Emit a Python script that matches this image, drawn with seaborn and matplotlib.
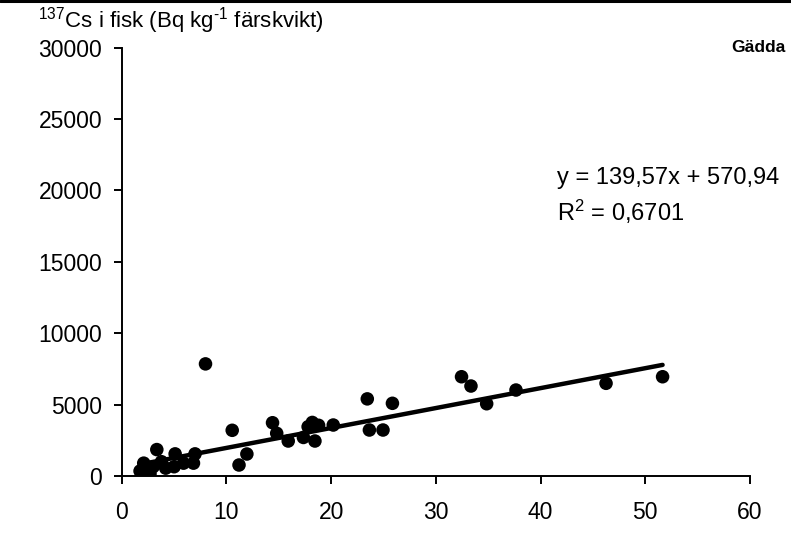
import matplotlib
matplotlib.use("Agg")
import matplotlib.pyplot as plt
from matplotlib.lines import Line2D
import numpy as np
import pandas as pd
import seaborn as sns

# 137Cs activity concentration in pike against the catch-site predictor
x_values = [1.75, 2.1, 2.7, 3.0, 3.35, 3.8, 4.2, 5.0, 5.1, 5.9, 6.85, 7.0,
            8.0, 10.55, 11.2, 11.95, 14.4, 14.8, 15.9, 17.35, 17.8, 18.2,
            18.45, 18.8, 20.2, 23.45, 23.65, 24.95, 25.85, 32.45, 33.35,
            34.85, 37.65, 46.25, 51.65]
y_values = [350, 900, 150, 650, 1850, 1000, 550, 650, 1550, 900, 900, 1550,
            7850, 3200, 770, 1540, 3730, 2990, 2450, 2700, 3450, 3750,
            2450, 3550, 3570, 5400, 3220, 3220, 5090, 6950, 6300,
            5060, 6020, 6490, 6950]

slope = 139.57
intercept = 570.94
r_squared = 0.6701

x_ticks = [0, 10, 20, 30, 40, 50, 60]
y_ticks = [0, 5000, 10000, 15000, 20000, 25000, 30000]

species = "Gädda"
y_title = r"$^{137}$Cs i fisk (Bq kg$^{\text{-}1}$ färskvikt)"

sns.set_style("ticks")
plt.rcParams["font.family"] = ["Liberation Sans", "DejaVu Sans"]
plt.rcParams["mathtext.fontset"] = "custom"
plt.rcParams["mathtext.rm"] = "Liberation Sans"
plt.rcParams["mathtext.it"] = "Liberation Sans"
plt.rcParams["mathtext.default"] = "regular"

df = pd.DataFrame({"x": x_values, "y": y_values})
trend_x = np.array([min(x_values), max(x_values)])
trend = pd.DataFrame({"x": trend_x, "y": slope * trend_x + intercept})

fig = plt.figure(figsize=(7.91, 5.34), dpi=100)
ax = fig.add_axes([0.1539, 0.1086, 0.9482 - 0.1539, 0.911 - 0.1086])

sns.scatterplot(data=df, x="x", y="y", ax=ax, color="black", s=95,
                edgecolor="none", linewidth=0, zorder=3, legend=False)
sns.lineplot(data=trend, x="x", y="y", ax=ax, color="black", linewidth=3.2,
             zorder=4, legend=False)

ax.set_xlim(0, 60)
ax.set_ylim(0, 30000)
ax.set_xticks(x_ticks)
ax.set_yticks(y_ticks)
ax.set_xticklabels([str(t) for t in x_ticks])
ax.set_yticklabels([str(t) for t in y_ticks])
ax.set_xlabel("")
ax.set_ylabel("")
sns.despine(ax=ax)
for side in ("left", "bottom"):
    ax.spines[side].set_linewidth(1.4)
    ax.spines[side].set_color("black")
ax.tick_params(axis="both", direction="out", length=6, width=1.4,
               color="black", labelsize=16.5, labelcolor="black")
ax.tick_params(axis="y", pad=8)
ax.tick_params(axis="x", pad=12)

eq = f"y = {slope:.2f}x + {intercept:.2f}".replace(".", ",")
ax.text(41.6, 20850, eq, fontsize=17, ha="left", va="center", color="black")
ax.text(41.6, 18480, r"R$^2$ = " + f"{r_squared:.4f}".replace(".", ","),
        fontsize=17, ha="left", va="center", color="black")

fig.text(785 / 791, 1 - 48 / 534, species, fontsize=12.5, fontweight="bold",
         ha="right", va="center", color="black")
fig.text(38 / 791, 1 - 21 / 534, y_title, fontsize=16, ha="left",
         va="center", color="black")

fig.add_artist(Line2D([0, 1], [0.998, 0.998], transform=fig.transFigure,
                      color="black", linewidth=2.2))

fig.savefig("out.png", dpi=100, facecolor="white")
